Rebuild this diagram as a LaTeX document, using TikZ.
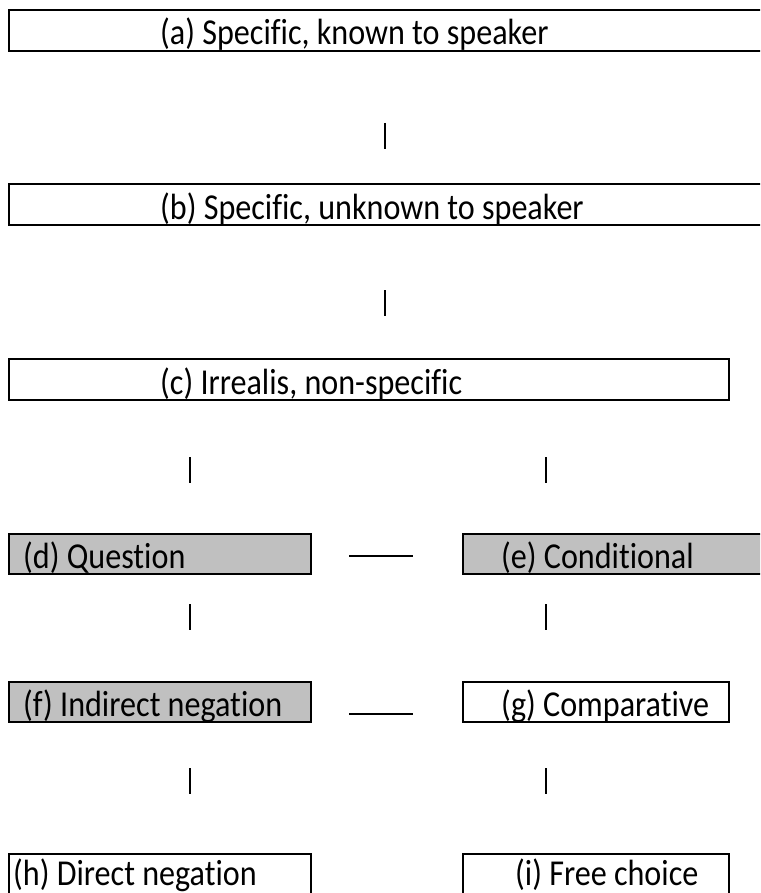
\documentclass[tikz,border=0pt]{standalone}
\usepackage{fontspec}
\setmainfont[Ligatures=NoCommon]{Carlito}

% labels are set a little narrower than the font's natural width
\newcommand{\narrowlbl}[1]{\scalebox{0.88}[1]{#1}}

\begin{document}
\begin{tikzpicture}[x=1pt, y=-1pt, font=\fontsize{36.5}{40}\selectfont,
		box/.style={draw, line width=1.8pt, anchor=north west, inner sep=0pt, outer sep=0pt, minimum height=40pt},
		shaded/.style={box, fill=boxgray},
		txt/.style={anchor=base west, inner sep=0pt},
		tick/.style={line width=1.9pt}]
		
		\definecolor{boxgray}{RGB}{192,192,192}
		
		% ==========================================
		% PAGE
		% ==========================================
		\clip (0,0) rectangle (760,893);
		
		% columns for the short strokes
		\coordinate (midcol) at (385,0);
		\coordinate (lcol) at (190,0);
		\coordinate (rcol) at (546,0);
		
		% ==========================================
		% UPPER CHAIN
		% ==========================================
		\node[box, minimum width=800pt, minimum height=41pt] (a) at (9,10) {};
		\node[txt] (at) at ([xshift=151pt, yshift=6pt]a.south west) {\narrowlbl{(a) Specific, known to speaker}};
		
		\node[box, minimum width=800pt, minimum height=41pt] (b) at (9,184) {};
		\node[txt] (bt) at ([xshift=151pt, yshift=6pt]b.south west) {\narrowlbl{(b) Specific, unknown to speaker}};
		
		\node[box, minimum width=720pt, minimum height=41pt] (c) at (9,359) {};
		\node[txt] (ct) at ([xshift=151pt, yshift=6pt]c.south west) {\narrowlbl{(c) Irrealis, non-specific}};
		
		% ==========================================
		% TWO COLUMNS
		% ==========================================
		\node[shaded, minimum width=302pt] (d) at (9,534) {};
		\node[txt] (dt) at ([xshift=14pt, yshift=6pt]d.south west) {\narrowlbl{(d) Question}};
		
		\node[shaded, minimum width=400pt] (e) at (463,534) {};
		\node[txt] (et) at ([xshift=38pt, yshift=6pt]e.south west) {\narrowlbl{(e) Conditional}};
		
		\node[shaded, minimum width=302pt] (f) at (9,682) {};
		\node[txt] (ft) at ([xshift=14pt, yshift=6pt]f.south west) {\narrowlbl{(f) Indirect negation}};
		
		\node[box, minimum width=266pt] (g) at (463,682) {};
		\node[txt] (gt) at ([xshift=38pt, yshift=6pt]g.south west) {\narrowlbl{(g) Comparative}};
		
		\node[box, minimum width=302pt] (h) at (9,854) {};
		\node[txt] (ht) at ([xshift=4pt, yshift=9pt]h.south west) {\narrowlbl{(h) Direct negation}};
		
		\node[box, minimum width=266pt] (i) at (463,854) {};
		\node[txt] (it) at ([xshift=52pt, yshift=9pt]i.south west) {\narrowlbl{(i) Free choice}};
		
		% ==========================================
		% STROKES BETWEEN THE BOXES
		% ==========================================
		\draw[tick, shorten <=72pt, shorten >=35pt] (a.south -| midcol) -- (b.north -| midcol);
		\draw[tick, shorten <=65pt, shorten >=43pt] (b.south -| midcol) -- (c.north -| midcol);
		
		\draw[tick, shorten <=57pt, shorten >=51pt] (c.south -| lcol) -- (d.north -| lcol);
		\draw[tick, shorten <=57pt, shorten >=51pt] (c.south -| rcol) -- (e.north -| rcol);
		
		\draw[tick, shorten <=30pt, shorten >=52pt] (d.south -| lcol) -- (f.north -| lcol);
		\draw[tick, shorten <=30pt, shorten >=52pt] (e.south -| rcol) -- (g.north -| rcol);
		
		\draw[tick, shorten <=46pt, shorten >=60pt] (f.south -| lcol) -- (h.north -| lcol);
		\draw[tick, shorten <=46pt, shorten >=60pt] (g.south -| rcol) -- (i.north -| rcol);
		
		% side links
		\draw[tick, shorten <=38pt, shorten >=50pt] ([yshift=-2pt]d.east) -- ([yshift=-2pt]d.east -| e.west);
		\draw[tick, shorten <=38pt, shorten >=50pt] ([yshift=-12pt]f.east) -- ([yshift=-12pt]f.east -| g.west);
		
	\end{tikzpicture}
\end{document}
